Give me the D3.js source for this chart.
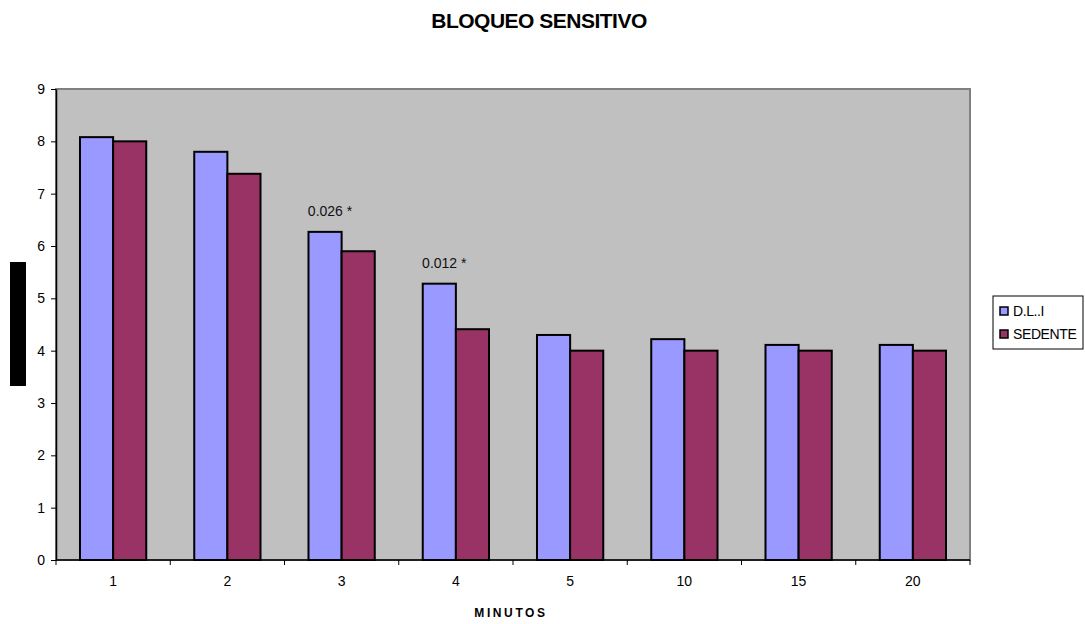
<!DOCTYPE html>
<html>
<head>
<meta charset="utf-8">
<script src="https://cdn.jsdelivr.net/npm/d3@7"></script>
<style>
  html, body { margin: 0; padding: 0; background: #fff; }
  svg { display: block; font-family: "Liberation Sans", Arial, sans-serif; }
</style>
</head>
<body>
<svg id="chart" width="1085" height="624"></svg>
<script>
// Minutes after block, sensory block score per group
const categories = ["1", "2", "3", "4", "5", "10", "15", "20"];
const dliValues = [8.08, 7.8, 6.27, 5.28, 4.3, 4.22, 4.11, 4.11];
const sedenteValues = [8.0, 7.38, 5.9, 4.41, 4.0, 4.0, 4.0, 4.0];
const seriesNames = ["D.L..I", "SEDENTE"];
const seriesColors = ["#9999FF", "#993366"];
const yTicks = [0, 1, 2, 3, 4, 5, 6, 7, 8, 9];
// p-value annotations above the D.L..I bar
const annotations = [
  { category: "3", text: "0.026 *" },
  { category: "4", text: "0.012 *" }
];

const svg = d3.select("#chart");
const plot = { left: 56, top: 89, right: 970, bottom: 560 };

const x = d3.scaleBand()
  .domain(categories)
  .range([plot.left, plot.right])
  .paddingInner(0.42)
  .paddingOuter(0.21);

const xSub = d3.scaleBand()
  .domain(seriesNames)
  .range([0, x.bandwidth()]);

const y = d3.scaleLinear()
  .domain([0, 9])
  .range([plot.bottom, plot.top]);

// Title
svg.append("text")
  .attr("x", 539).attr("y", 28)
  .attr("text-anchor", "middle")
  .attr("font-size", 21).attr("font-weight", "bold")
  .attr("letter-spacing", "-0.5")
  .text("BLOQUEO SENSITIVO");

// Plot background
svg.append("rect")
  .attr("x", plot.left).attr("y", plot.top)
  .attr("width", plot.right - plot.left)
  .attr("height", plot.bottom - plot.top)
  .attr("fill", "#C0C0C0")
  .attr("stroke", "#808080").attr("stroke-width", 2);

// Bars
const rows = categories.map((c, i) => ({ c, vals: [dliValues[i], sedenteValues[i]] }));
const groups = svg.append("g").selectAll("g")
  .data(rows).join("g")
  .attr("transform", d => `translate(${x(d.c)},0)`);

groups.selectAll("rect")
  .data(d => d.vals.map((v, k) => ({ v, k })))
  .join("rect")
  .attr("x", d => xSub(seriesNames[d.k]))
  .attr("y", d => y(d.v))
  .attr("width", xSub.bandwidth())
  .attr("height", d => y(0) - y(d.v))
  .attr("fill", d => seriesColors[d.k])
  .attr("stroke", "#000").attr("stroke-width", 2);

// Annotations
svg.append("g").selectAll("text")
  .data(annotations).join("text")
  .attr("x", d => x(d.category) + xSub("D.L..I") + xSub.bandwidth() / 2 + 5)
  .attr("y", d => y(dliValues[categories.indexOf(d.category)]) - 16)
  .attr("text-anchor", "middle")
  .attr("font-size", 14)
  .attr("fill", "#111")
  .text(d => d.text);

// Y axis
const yAxis = svg.append("g")
  .attr("transform", `translate(${plot.left},0)`)
  .call(d3.axisLeft(y).tickValues(yTicks).tickSize(5).tickSizeOuter(0).tickPadding(6));
yAxis.select(".domain").attr("stroke", "#000").attr("stroke-width", 1.5);
yAxis.selectAll(".tick line").attr("stroke", "#000");
yAxis.selectAll(".tick text").attr("font-size", 14).attr("fill", "#000")
  .attr("font-family", "Liberation Sans, Arial, sans-serif");

// X axis line with tick marks at category boundaries
const xAxisG = svg.append("g").attr("transform", `translate(0,${plot.bottom})`);
xAxisG.append("line")
  .attr("x1", plot.left).attr("x2", plot.right)
  .attr("stroke", "#000").attr("stroke-width", 1.5);
const boundaries = d3.range(categories.length + 1).map(i => plot.left + i * (plot.right - plot.left) / categories.length);
xAxisG.selectAll("line.tick")
  .data(boundaries).join("line")
  .attr("class", "tick")
  .attr("x1", d => d).attr("x2", d => d)
  .attr("y1", 0).attr("y2", 5)
  .attr("stroke", "#000");
xAxisG.selectAll("text")
  .data(categories).join("text")
  .attr("x", d => x(d) + x.bandwidth() / 2)
  .attr("y", 26)
  .attr("text-anchor", "middle")
  .attr("font-size", 14)
  .text(d => d);

// X axis title
svg.append("text")
  .attr("x", 511).attr("y", 617)
  .attr("text-anchor", "middle")
  .attr("font-size", 12).attr("font-weight", "bold")
  .attr("letter-spacing", "2.6")
  .text("MINUTOS");

// Y axis title block
svg.append("rect")
  .attr("x", 10).attr("y", 262)
  .attr("width", 16).attr("height", 124)
  .attr("fill", "#000");

// Legend
const legend = svg.append("g").attr("transform", "translate(993,296)");
legend.append("rect")
  .attr("width", 90).attr("height", 53)
  .attr("fill", "#fff").attr("stroke", "#000").attr("stroke-width", 1);
seriesNames.forEach((name, i) => {
  const ly = 15 + i * 23;
  legend.append("rect")
    .attr("x", 7).attr("y", ly - 4)
    .attr("width", 8).attr("height", 8)
    .attr("fill", seriesColors[i]).attr("stroke", "#000").attr("stroke-width", 1.5);
  legend.append("text")
    .attr("x", 20).attr("y", ly + 5)
    .attr("font-size", 14)
    .attr("letter-spacing", "-0.4")
    .text(name);
});
</script>
</body>
</html>
